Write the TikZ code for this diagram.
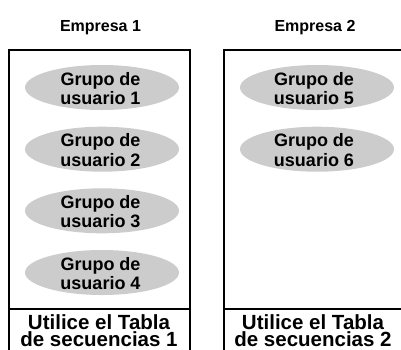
\documentclass[tikz,border=0pt]{standalone}
\usepackage{fontspec}
\setmainfont{Liberation Sans}
\usetikzlibrary{shapes.geometric}
\tikzset{
  grp/.style={ellipse, fill=black!20, draw=none, minimum width=154pt, minimum height=45pt, inner sep=0pt},
  grptext/.style={align=center, font=\fontsize{18}{19.3}\selectfont\bfseries, inner sep=0pt, anchor=base},
  headtext/.style={font=\fontsize{16}{18}\selectfont\bfseries, inner sep=0pt, anchor=base},
  foottext/.style={align=center, font=\fontsize{20.5}{17.2}\selectfont\bfseries, inner sep=0pt, anchor=base},
  boxline/.style={draw=black, line width=1.2pt}
}
\begin{document}
\begin{tikzpicture}[x=1pt,y=-1pt]
\useasboundingbox (0,0) rectangle (401,349);
\clip (0,0) rectangle (401,349);
% boxes
\draw[boxline] (9,50) rectangle (190,380);
\draw[boxline] (9,309) -- (190,309);
\draw[boxline] (224,50) rectangle (410,380);
\draw[boxline] (224,309) -- (410,309);
% headers
\node[headtext] (h1) at (100.5,31) {Empresa 1};
\node[headtext] (h2) at (315,31) {Empresa 2};
% left ellipses
\node[grp] (g1) at (102,87.5) {};
\node[grp] (g2) at (102,149.2) {};
\node[grp] (g3) at (102,210.8) {};
\node[grp] (g4) at (102,272.5) {};
\node[grptext] (t1) at (100.5,104.3) {Grupo de\\usuario 1};
\node[grptext] (t2) at (100.5,166) {Grupo de\\usuario 2};
\node[grptext] (t3) at (100.5,227.6) {Grupo de\\usuario 3};
\node[grptext] (t4) at (100.5,289.3) {Grupo de\\usuario 4};
% right ellipses
\node[grp] (g5) at (317,87.5) {};
\node[grp] (g6) at (317,149.2) {};
\node[grptext] (t5) at (314,104.3) {Grupo de\\usuario 5};
\node[grptext] (t6) at (314,166) {Grupo de\\usuario 6};
% footers
\node[foottext] (f1) at (99,346.5) {Utilice el Tabla\\de secuencias 1};
\node[foottext] (f2) at (313,346.5) {Utilice el Tabla\\de secuencias 2};
\end{tikzpicture}
\end{document}
